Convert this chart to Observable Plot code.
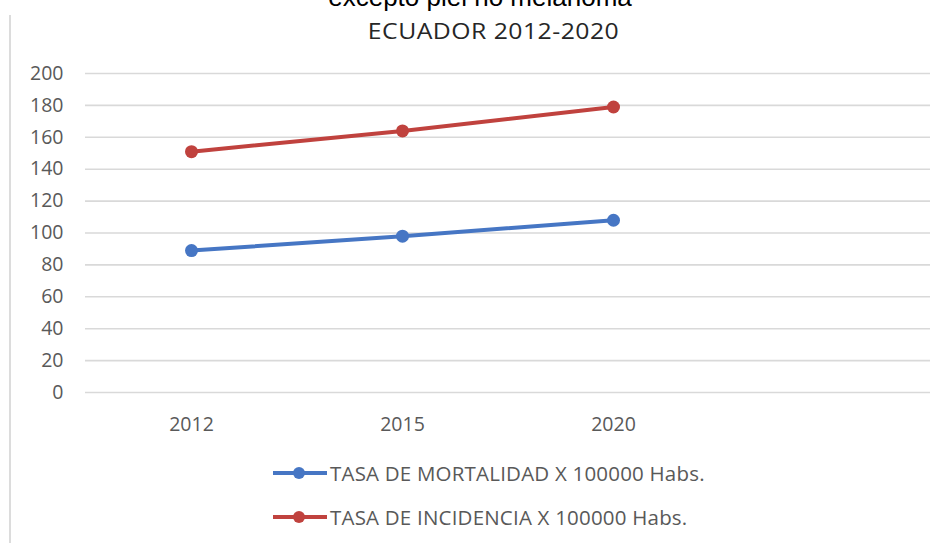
<!DOCTYPE html>
<html>
<head>
<meta charset="utf-8">
<script src="https://cdn.jsdelivr.net/npm/d3@7"></script>
<script src="https://cdn.jsdelivr.net/npm/@observablehq/plot@0.6"></script>
<style>
  body { margin: 0; background: #fff; }
  #wrap { position: relative; width: 944px; height: 543px; overflow: hidden; background: #fff; }
  #frameLine { position: absolute; left: 9px; top: 15px; width: 2px; height: 528px; background: #dcdcdc; }
  #t1 { position: absolute; left: 0; width: 944px; top: -16px; height: 26px; line-height: 26px; text-align: center;
        font-family: "Liberation Sans", Arial, sans-serif; font-size: 26px; color: #000; padding-left: 16px; box-sizing: border-box; }
  #t2 { position: absolute; left: 0; width: 944px; top: 21px; height: 21px; line-height: 21px; text-align: center;
        padding-left: 44px; box-sizing: border-box; }
  #t2 span { display: inline-block; font-family: "Open Sans", sans-serif; font-size: 21px; color: #262626;
        letter-spacing: 0.4px; transform: scaleX(1.18); transform-origin: center; }
  #chart { position: absolute; left: 0; top: 45px; }
  .leg { position: absolute; left: 272px; height: 24px; display: flex; align-items: center;
         font-family: "Open Sans", sans-serif; font-size: 20.5px; letter-spacing: 0.2px; color: #595959; white-space: nowrap; }
  .leg svg { margin-right: 2px; }
</style>
</head>
<body>
<div id="wrap">
  <div id="frameLine"></div>
  <div id="t1">excepto piel no melanoma</div>
  <div id="t2"><span>ECUADOR 2012-2020</span></div>
  <div id="chart"></div>
  <div id="legend"></div>
</div>
<script>
// ---- data ----
const years = ["2012", "2015", "2020"];
const mortalidad = [89, 98, 108];
const incidencia = [151, 164, 179];
const seriesNames = ["TASA DE MORTALIDAD X 100000 Habs.", "TASA DE INCIDENCIA X 100000 Habs."];
const seriesColors = ["#4676c4", "#c0423e"];
const yTicks = [0, 20, 40, 60, 80, 100, 120, 140, 160, 180, 200];

const rows = [];
years.forEach((yr, i) => {
  rows.push({ year: yr, value: mortalidad[i], serie: seriesNames[0] });
  rows.push({ year: yr, value: incidencia[i], serie: seriesNames[1] });
});

const W = 944, H = 400;
const mL = 85, mR = 14;
const plotW = W - mL - mR;

const chart = Plot.plot({
  width: W,
  height: H,
  marginLeft: mL,
  marginRight: mR,
  marginTop: 28,
  marginBottom: 53,
  style: { fontFamily: "Open Sans, sans-serif", fontSize: "19.5px", color: "#595959", background: "transparent" },
  x: { type: "point", domain: years, padding: 0.5, insetRight: plotW / 4, label: null },
  y: { domain: [0, 200], label: null },
  color: { domain: seriesNames, range: seriesColors },
  marks: [
    Plot.ruleY(yTicks, { stroke: "#d9d9d9", strokeWidth: 1.6 }),
    Plot.axisY({ ticks: yTicks, tickSize: 0, tickPadding: 22, label: null }),
    Plot.axisX({ tickSize: 0, tickPadding: 25, label: null }),
    Plot.line(rows, { x: "year", y: "value", z: "serie", stroke: "serie", strokeWidth: 4 }),
    Plot.dot(rows, { x: "year", y: "value", fill: "serie", r: 6.5 })
  ]
});
document.getElementById("chart").appendChild(chart);

// ---- legend ----
const legend = document.getElementById("legend");
const legTops = [461, 505];
seriesNames.forEach((name, i) => {
  const d = document.createElement("div");
  d.className = "leg";
  d.style.top = legTops[i] + "px";
  d.innerHTML =
    `<svg width="56" height="16"><line x1="1" y1="8" x2="55" y2="8" stroke="${seriesColors[i]}" stroke-width="4"/>` +
    `<circle cx="27" cy="8" r="6" fill="${seriesColors[i]}"/></svg><span>${name}</span>`;
  legend.appendChild(d);
});
</script>
</body>
</html>
